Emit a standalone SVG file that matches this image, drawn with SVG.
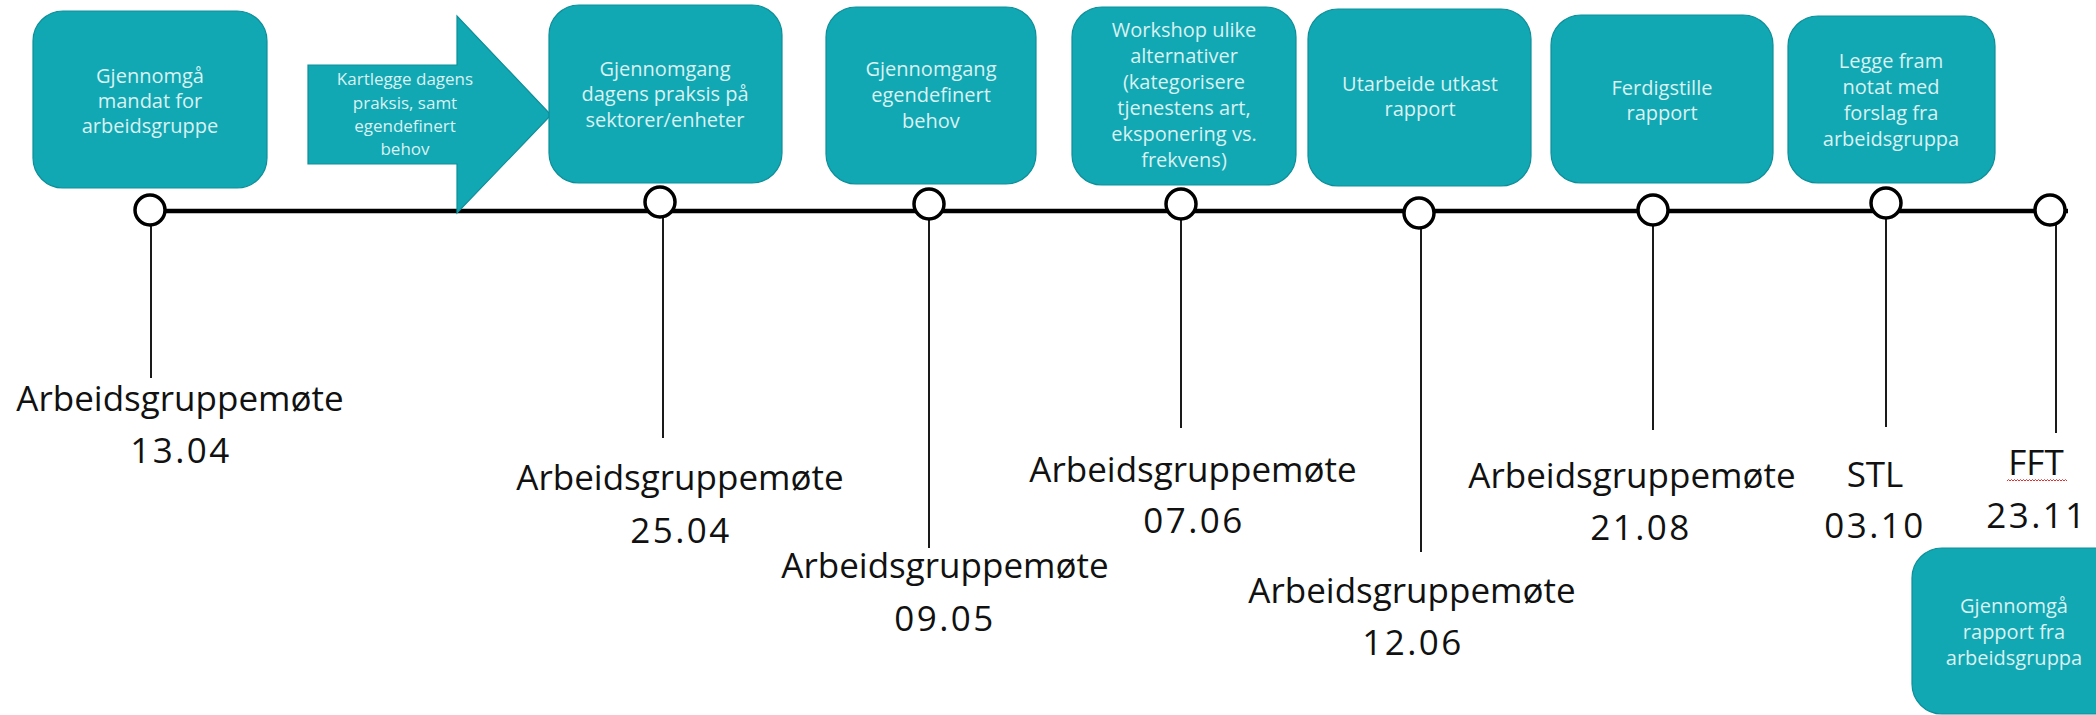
<svg xmlns="http://www.w3.org/2000/svg" width="2096" height="715" viewBox="0 0 2096 715">
<style>
.box{fill:#11a8b4;stroke:#0d8f99;stroke-width:1.2}
.bt{font-family:"Open Sans","Liberation Sans",sans-serif;font-size:20px;fill:#d9f1f1;text-anchor:middle}
.at{font-family:"Open Sans","Liberation Sans",sans-serif;font-size:17px;fill:#d9f1f1;text-anchor:middle}
.lb{font-family:"Open Sans","Liberation Sans",sans-serif;font-size:35px;fill:#111;text-anchor:middle}
.dt{font-family:"Open Sans","Liberation Sans",sans-serif;font-size:35px;fill:#111;text-anchor:middle;letter-spacing:2.5px}
.tl{stroke:#000;stroke-width:4.5;fill:none}
.vl{stroke:#1a1a1a;stroke-width:2;fill:none}
.dot{fill:#fff;stroke:#000;stroke-width:3.5}
</style>
<rect width="2096" height="715" fill="#fff"/>
<g id="connectors">
<line class="tl" x1="150" y1="211" x2="2068" y2="211"/>
<line class="vl" x1="151" y1="225" x2="151" y2="378"/>
<line class="vl" x1="663" y1="217" x2="663" y2="438"/>
<line class="vl" x1="929" y1="219" x2="929" y2="548"/>
<line class="vl" x1="1181" y1="219" x2="1181" y2="428"/>
<line class="vl" x1="1421" y1="228" x2="1421" y2="552"/>
<line class="vl" x1="1653" y1="225" x2="1653" y2="430"/>
<line class="vl" x1="1886" y1="218" x2="1886" y2="427"/>
<line class="vl" x1="2056" y1="225" x2="2056" y2="433"/>
</g>
<g id="step1">
<rect class="box" x="33" y="11" width="234" height="177" rx="30"/>
<text class="bt" x="150" y="83">Gjennomgå</text>
<text class="bt" x="150" y="108">mandat for</text>
<text class="bt" x="150" y="133">arbeidsgruppe</text>
</g>
<g id="arrow">
<polygon class="box" points="308,65 457,65 457,16 551,115 457,213 457,164 308,164"/>
<text class="at" x="405" y="85">Kartlegge dagens</text>
<text class="at" x="405" y="109">praksis, samt</text>
<text class="at" x="405" y="132">egendefinert</text>
<text class="at" x="405" y="155">behov</text>
</g>
<g id="step2">
<rect class="box" x="549" y="5" width="233" height="178" rx="30"/>
<text class="bt" x="665" y="76">Gjennomgang</text>
<text class="bt" x="665" y="101">dagens praksis på</text>
<text class="bt" x="665" y="127">sektorer/enheter</text>
</g>
<g id="step3">
<rect class="box" x="826" y="7" width="210" height="177" rx="30"/>
<text class="bt" x="931" y="76">Gjennomgang</text>
<text class="bt" x="931" y="102">egendefinert</text>
<text class="bt" x="931" y="128">behov</text>
</g>
<g id="step4">
<rect class="box" x="1072" y="7" width="224" height="178" rx="30"/>
<text class="bt" x="1184" y="37">Workshop ulike</text>
<text class="bt" x="1184" y="63">alternativer</text>
<text class="bt" x="1184" y="89">(kategorisere</text>
<text class="bt" x="1184" y="115">tjenestens art,</text>
<text class="bt" x="1184" y="141">eksponering vs.</text>
<text class="bt" x="1184" y="167">frekvens)</text>
</g>
<g id="step5">
<rect class="box" x="1308" y="9" width="223" height="177" rx="30"/>
<text class="bt" x="1420" y="91">Utarbeide utkast</text>
<text class="bt" x="1420" y="116">rapport</text>
</g>
<g id="step6">
<rect class="box" x="1551" y="15" width="222" height="168" rx="30"/>
<text class="bt" x="1662" y="95">Ferdigstille</text>
<text class="bt" x="1662" y="120">rapport</text>
</g>
<g id="step7">
<rect class="box" x="1788" y="16" width="207" height="167" rx="30"/>
<text class="bt" x="1891" y="68">Legge fram</text>
<text class="bt" x="1891" y="94">notat med</text>
<text class="bt" x="1891" y="120">forslag fra</text>
<text class="bt" x="1891" y="146">arbeidsgruppa</text>
</g>
<g id="step8">
<rect class="box" x="1912" y="548" width="230" height="166" rx="30"/>
<text class="bt" x="2014" y="613">Gjennomgå</text>
<text class="bt" x="2014" y="639">rapport fra</text>
<text class="bt" x="2014" y="665">arbeidsgruppa</text>
</g>
<g id="milestones">
<circle class="dot" cx="150" cy="210" r="15"/>
<circle class="dot" cx="660" cy="202" r="15"/>
<circle class="dot" cx="929" cy="204" r="15"/>
<circle class="dot" cx="1181" cy="204" r="15"/>
<circle class="dot" cx="1419" cy="213" r="15"/>
<circle class="dot" cx="1653" cy="210" r="15"/>
<circle class="dot" cx="1886" cy="203" r="15"/>
<circle class="dot" cx="2050" cy="210" r="15"/>
</g>
<g id="label1">
<text class="lb" x="180" y="411">Arbeidsgruppemøte</text>
<text class="dt" x="181" y="463">13.04</text>
</g>
<g id="label2">
<text class="lb" x="680" y="490">Arbeidsgruppemøte</text>
<text class="dt" x="681" y="543">25.04</text>
</g>
<g id="label3">
<text class="lb" x="945" y="578">Arbeidsgruppemøte</text>
<text class="dt" x="945" y="631">09.05</text>
</g>
<g id="label4">
<text class="lb" x="1193" y="482">Arbeidsgruppemøte</text>
<text class="dt" x="1194" y="533">07.06</text>
</g>
<g id="label5">
<text class="lb" x="1412" y="603">Arbeidsgruppemøte</text>
<text class="dt" x="1413" y="655">12.06</text>
</g>
<g id="label6">
<text class="lb" x="1632" y="488">Arbeidsgruppemøte</text>
<text class="dt" x="1641" y="540">21.08</text>
</g>
<g id="label7">
<text class="lb" x="1875" y="487">STL</text>
<text class="dt" x="1875" y="538">03.10</text>
</g>
<g id="label8">
<text class="lb" x="2036" y="475">FFT</text>
<path d="M2007,481 l1.5,-1.5 l1.5,1.5 l1.5,-1.5 l1.5,1.5 l1.5,-1.5 l1.5,1.5 l1.5,-1.5 l1.5,1.5 l1.5,-1.5 l1.5,1.5 l1.5,-1.5 l1.5,1.5 l1.5,-1.5 l1.5,1.5 l1.5,-1.5 l1.5,1.5 l1.5,-1.5 l1.5,1.5 l1.5,-1.5 l1.5,1.5 l1.5,-1.5 l1.5,1.5 l1.5,-1.5 l1.5,1.5 l1.5,-1.5 l1.5,1.5 l1.5,-1.5 l1.5,1.5 l1.5,-1.5 l1.5,1.5 l1.5,-1.5 l1.5,1.5 l1.5,-1.5 l1.5,1.5 l1.5,-1.5 l1.5,1.5 l1.5,-1.5 l1.5,1.5 l1.5,-1.5 l1.5,1.5" fill="none" stroke="#e03030" stroke-width="1"/>
<text class="dt" x="2037" y="528">23.11</text>
</g>
</svg>
